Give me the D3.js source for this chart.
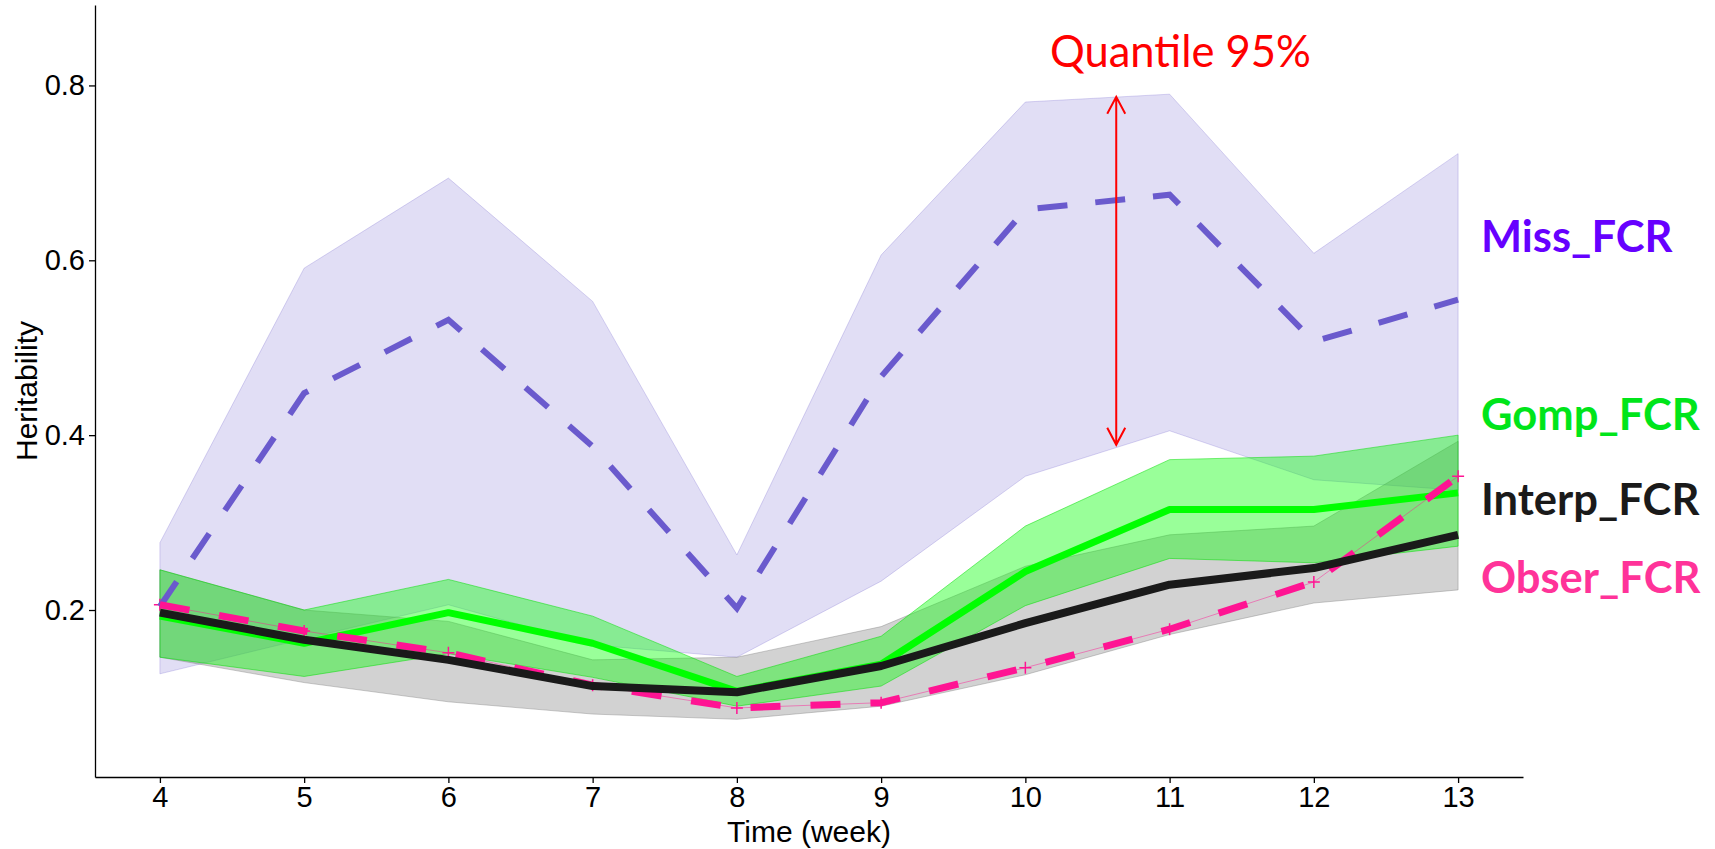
<!DOCTYPE html>
<html>
<head>
<meta charset="utf-8">
<script src="https://cdn.jsdelivr.net/npm/d3@7"></script>
<style>
  body { margin: 0; background: #fff; }
  .axis text { font-family: "Liberation Sans", Arial, sans-serif; font-size: 29px; fill: #000; }
  .axis path, .axis line { stroke: #000; stroke-width: 1.3; }
</style>
</head>
<body>
<div class="lineChart"></div>
<script>
// weeks on the x axis
var weeks = [4, 5, 6, 7, 8, 9, 10, 11, 12, 13];
var yTicks = [0.2, 0.4, 0.6, 0.8];

// Miss_FCR (mean + 95% band)
var missMean = [0.204, 0.448, 0.532, 0.387, 0.202, 0.467, 0.658, 0.675, 0.507, 0.555];
var missLow  = [0.127, 0.167, 0.206, 0.160, 0.146, 0.233, 0.353, 0.405, 0.349, 0.337];
var missHigh = [0.277, 0.591, 0.694, 0.553, 0.263, 0.606, 0.781, 0.790, 0.608, 0.722];

// Gomp_FCR
var gompMean = [0.193, 0.162, 0.197, 0.162, 0.107, 0.138, 0.244, 0.315, 0.315, 0.334];
var gompLow  = [0.146, 0.124, 0.150, 0.123, 0.090, 0.113, 0.205, 0.259, 0.254, 0.273];
var gompHigh = [0.246, 0.200, 0.235, 0.193, 0.124, 0.170, 0.296, 0.372, 0.376, 0.400];

// Interp_FCR
var interpMean = [0.197, 0.166, 0.143, 0.113, 0.106, 0.136, 0.185, 0.229, 0.248, 0.286];
var interpLow  = [0.146, 0.117, 0.095, 0.081, 0.075, 0.090, 0.126, 0.172, 0.208, 0.223];
var interpHigh = [0.246, 0.200, 0.187, 0.143, 0.146, 0.181, 0.250, 0.286, 0.296, 0.393];

// Obser_FCR
var obserMean = [0.206, 0.176, 0.151, 0.114, 0.088, 0.094, 0.134, 0.178, 0.232, 0.353];

// series labels on the right (value = baseline height in data units)
var seriesLabels = [
  { text: "Miss_FCR",   value: 0.610, color: "#6600ff" },
  { text: "Gomp_FCR",   value: 0.406, color: "#00e51a" },
  { text: "Interp_FCR", value: 0.309, color: "#1a1a1a" },
  { text: "Obser_FCR",  value: 0.219, color: "#ff3399" }
];

// quantile annotation (week position, from/to heritability)
var quantileWeek = 10.63;
var quantileRange = [0.389, 0.787];

drawChart();

function drawChart() {
  var width = 1715, height = 849;
  var plot = { left: 95, right: 1523, top: 5, bottom: 777 };

  var svg = d3.select(".lineChart").append("svg")
      .attr("width", width)
      .attr("height", height);

  var x = d3.scaleLinear().domain([3.55, 13.45]).range([plot.left, plot.right]);
  var y = d3.scaleLinear().domain([0.009, 0.892]).range([plot.bottom, plot.top]);

  function band(lo, hi) {
    return d3.area()
      .x(function(d, i) { return x(weeks[i]); })
      .y0(function(d, i) { return y(lo[i]); })
      .y1(function(d, i) { return y(hi[i]); })(weeks);
  }
  var line = d3.line()
      .x(function(d, i) { return x(weeks[i]); })
      .y(function(d) { return y(d); });

  // ribbons
  svg.append("path").attr("d", band(missLow, missHigh))
      .attr("fill", "#6a5acd").attr("fill-opacity", 0.2)
      .attr("stroke", "#6a5acd").attr("stroke-opacity", 0.25).attr("stroke-width", 1);
  svg.append("path").attr("d", band(interpLow, interpHigh))
      .attr("fill", "#7f7f7f").attr("fill-opacity", 0.35)
      .attr("stroke", "#7f7f7f").attr("stroke-opacity", 0.4).attr("stroke-width", 1);
  svg.append("path").attr("d", band(gompLow, gompHigh))
      .attr("fill", "#00ff00").attr("fill-opacity", 0.4)
      .attr("stroke", "#00dd00").attr("stroke-opacity", 0.5).attr("stroke-width", 1);

  // thin observed line + markers
  svg.append("path").attr("d", line(obserMean))
      .attr("fill", "none").attr("stroke", "#ff1493").attr("stroke-opacity", 0.45).attr("stroke-width", 1);
  svg.selectAll(".obs-pt").data(obserMean).enter().append("path")
      .attr("class", "obs-pt")
      .attr("d", "M-6,0H6M0,-6V6")
      .attr("transform", function(d, i) { return "translate(" + x(weeks[i]) + "," + y(d) + ")"; })
      .attr("stroke", "#ff1493").attr("stroke-width", 1.5);

  // mean lines
  svg.append("path").attr("d", line(missMean))
      .attr("fill", "none").attr("stroke", "#6a5acd").attr("stroke-width", 6)
      .attr("stroke-dasharray", "30,28");
  svg.append("path").attr("d", line(gompMean))
      .attr("fill", "none").attr("stroke", "#00ff00").attr("stroke-width", 7)
      .attr("stroke-linejoin", "round");
  svg.append("path").attr("d", line(obserMean))
      .attr("fill", "none").attr("stroke", "#ff1493").attr("stroke-width", 7)
      .attr("stroke-dasharray", "30,30");
  svg.append("path").attr("d", line(interpMean))
      .attr("fill", "none").attr("stroke", "#1a1a1a").attr("stroke-width", 8)
      .attr("stroke-linejoin", "round");

  // axes
  var xAxis = d3.axisBottom(x).tickValues(weeks).tickFormat(d3.format("d"))
      .tickSize(6).tickPadding(3).tickSizeOuter(0);
  var yAxis = d3.axisLeft(y).tickValues(yTicks).tickFormat(d3.format(".1f"))
      .tickSize(6).tickPadding(4).tickSizeOuter(0);

  svg.append("g").attr("class", "x axis")
      .attr("transform", "translate(0," + plot.bottom + ")")
      .call(xAxis);
  svg.append("g").attr("class", "y axis")
      .attr("transform", "translate(" + plot.left + ",0)")
      .call(yAxis);
  svg.selectAll(".axis .domain").attr("stroke-width", 1.5);

  svg.append("text")
      .attr("x", (plot.left + plot.right) / 2)
      .attr("y", 842)
      .attr("text-anchor", "middle")
      .style("font-family", "Liberation Sans, Arial, sans-serif")
      .style("font-size", "30px")
      .text("Time (week)");

  svg.append("text")
      .attr("transform", "translate(37," + (plot.top + plot.bottom) / 2 + ") rotate(-90)")
      .attr("text-anchor", "middle")
      .style("font-family", "Liberation Sans, Arial, sans-serif")
      .style("font-size", "30px")
      .text("Heritability");

  // quantile arrow
  var ax = x(quantileWeek), ay0 = y(quantileRange[0]), ay1 = y(quantileRange[1]);
  svg.append("path")
      .attr("d", "M" + ax + "," + ay0 + "V" + ay1 +
                 "M" + (ax - 9) + "," + (ay1 + 17) + "L" + ax + "," + ay1 + "L" + (ax + 9) + "," + (ay1 + 17) +
                 "M" + (ax - 9) + "," + (ay0 - 17) + "L" + ax + "," + ay0 + "L" + (ax + 9) + "," + (ay0 - 17))
      .attr("fill", "none").attr("stroke", "#ff0000").attr("stroke-width", 2);

  svg.append("text")
      .attr("x", 1050)
      .attr("y", 67)
      .style("font-family", "Lato, 'Open Sans', sans-serif")
      .style("font-size", "43.5px")
      .attr("fill", "#ff0000")
      .text("Quantile 95%");

  svg.selectAll(".series-label").data(seriesLabels).enter().append("text")
      .attr("class", "series-label")
      .attr("x", 1481)
      .attr("y", function(d) { return y(d.value); })
      .attr("fill", function(d) { return d.color; })
      .style("font-family", "Lato, 'Open Sans', sans-serif")
      .style("font-weight", "bold")
      .style("font-size", "43.5px")
      .text(function(d) { return d.text; });
}
</script>
</body>
</html>
